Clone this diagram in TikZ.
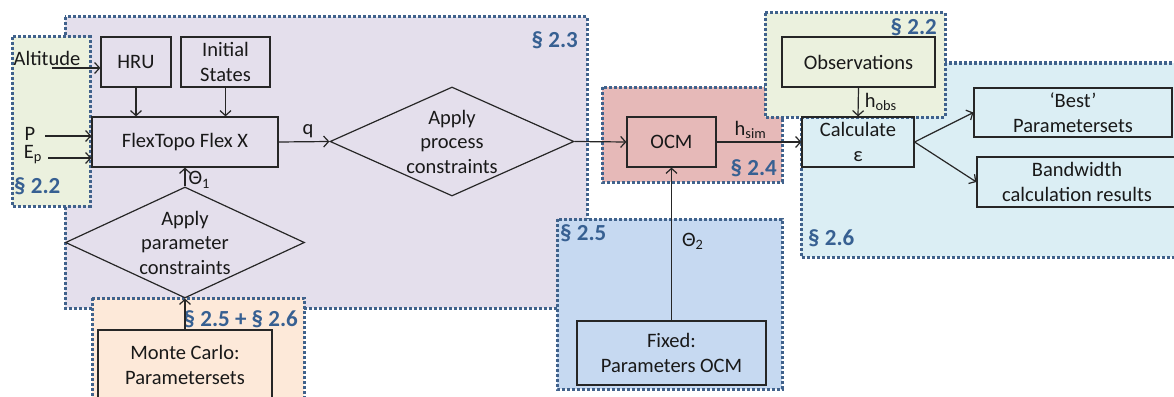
\documentclass[tikz,border=0pt]{standalone}
\usepackage{fontspec}
\setmainfont{Carlito}
\usetikzlibrary{arrows.meta,shapes.geometric}
\definecolor{secblue}{RGB}{55,96,146}
\definecolor{dotcol}{RGB}{64,98,140}
\definecolor{fpurple}{HTML}{E4DFEC}
\definecolor{fgreen}{HTML}{EBF1DE}
\definecolor{forange}{HTML}{FDE9D9}
\definecolor{fred}{HTML}{E6B9B8}
\definecolor{flblue}{HTML}{DBEEF4}
\definecolor{fblue}{HTML}{C6D9F1}
\newcommand{\mainfs}{\fontsize{20.5}{24.5}\selectfont}
\newcommand{\secfs}{\fontsize{23}{26}\selectfont\bfseries}
\begin{document}
\begin{tikzpicture}[x=1pt,y=-1pt,
  region/.style={fill=#1, draw=dotcol, line width=3pt, dash pattern=on 2.6pt off 2.4pt},
  box/.style={draw=black!85, line width=1.2pt, inner sep=0pt, align=center, font=\mainfs, text=black!90},
  dia/.style={shape=diamond, draw=black!85, line width=1.2pt, inner sep=-6pt, align=center, font=\mainfs, text=black!90},
  lab/.style={font=\mainfs, text=black!90, inner sep=0pt},
  sec/.style={font=\secfs, text=secblue, inner sep=0pt},
  arr/.style={draw=black!85, line width=1.2pt, -{Straight Barb[length=5pt,width=11pt,line width=1.2pt]}},
  ln/.style={draw=black!85, line width=1.2pt}
]
\clip (0,0) rectangle (1174,396);
\fill[white] (0,0) rectangle (1174,396);

% regions
\draw[region=fpurple] (65,17) rectangle (587,308);
\draw[region=fgreen] (12,37) rectangle (90,206);
\draw[region=forange] (92,298) rectangle (304,410);
\draw[region=fred] (602,87) rectangle (782,182);
\draw[region=fblue] (557,219) rectangle (782,389);
\draw[region=flblue] (801,63) rectangle (1190,257);
\draw[region=fgreen] (765,13) rectangle (945,117);

% section labels
\node[sec, anchor=east] (s23) at (578,40) {§ 2.3};
\node[sec, anchor=west] (s22a) at (14,186) {§ 2.2};
\node[sec, anchor=east] (s2526) at (298,319) {§ 2.5 + § 2.6};
\node[sec, anchor=east] (s24) at (777,168) {§ 2.4};
\node[sec, anchor=east] (s22b) at (937,27) {§ 2.2};
\node[sec, anchor=west] (s26) at (808,238) {§ 2.6};
\node[sec, anchor=west] (s25) at (560,233) {§ 2.5};

% nodes
\node[box, minimum width=70, minimum height=50] (hru) at (136,62) {HRU};
\node[box, minimum width=89, minimum height=50] (init) at (225.5,62) {Initial\\States};
\node[box, minimum width=186, minimum height=50] (flex) at (185,142) {FlexTopo Flex X};
\node[dia, aspect=2.15, minimum width=239, minimum height=111] (pdia) at (185,242.5) {Apply\\parameter\\constraints};
\node[box, minimum width=174, minimum height=70] (mc) at (185,365) {Monte Carlo:\\Parametersets};
\node[dia, aspect=2.24, minimum width=244, minimum height=109] (prdia) at (452,141.5) {Apply\\process\\constraints};
\node[box, minimum width=89, minimum height=50] (ocm) at (671.5,142) {OCM};
\node[box, minimum width=189, minimum height=64] (fixed) at (671.5,353) {Fixed:\\Parameters OCM};
\node[box, minimum width=153, minimum height=50] (obs) at (858.5,62) {Observations};
\node[box, minimum width=112, minimum height=50] (calc) at (858,142) {Calculate\\ε};
\node[box, minimum width=198, minimum height=49] (best) at (1073,112.5) {‘Best’\\Parametersets};
\node[box, minimum width=200, minimum height=50] (band) at (1077,182) {Bandwidth\\calculation results};

% input labels
\node[lab] (alt) at (47,58) {Altitude};
\node[lab] (P) at (30,134) {P};
\node[lab] (Ep) at (33,155) {E\textsubscript{p}};
\coordinate (altS) at (52,68);
\coordinate (pS) at (45,136);
\coordinate (eS) at (48,158);

% connectors
\draw[arr] (altS) -- (altS -| hru.west);
\draw[arr] (pS) -- (pS -| flex.west);
\draw[arr] (eS) -- (eS -| flex.west);
\draw[arr] (hru.south) -- (hru.south |- flex.north);
\draw[arr] (init.south) -- (init.south |- flex.north);
\draw[arr] (pdia.north) -- (flex.south) node[lab, pos=0.35, anchor=west, xshift=3pt] (th1) {Θ\textsubscript{1}};
\draw[arr] (mc.north) -- (pdia.south);
\draw[arr] (flex.east) -- (prdia.west) node[lab, pos=0.58, anchor=south, yshift=3pt] (q) {q};
\draw[arr] (prdia.east) -- (ocm.west);
\draw[arr] (ocm.east) -- (calc.west) node[lab, pos=0.4, anchor=south, yshift=3pt] (hsim) {h\textsubscript{sim}};
\draw[arr] (fixed.north) -- (ocm.south) node[lab, pos=0.52, anchor=west, xshift=10pt] (th2) {Θ\textsubscript{2}};
\draw[arr] (obs.south) -- (calc.north) node[lab, pos=0.5, anchor=west, xshift=6pt] (hobs) {h\textsubscript{obs}};
\draw[arr] (calc.east) -- (best.west);
\draw[arr] (calc.east) -- (band.west);
\end{tikzpicture}
\end{document}
